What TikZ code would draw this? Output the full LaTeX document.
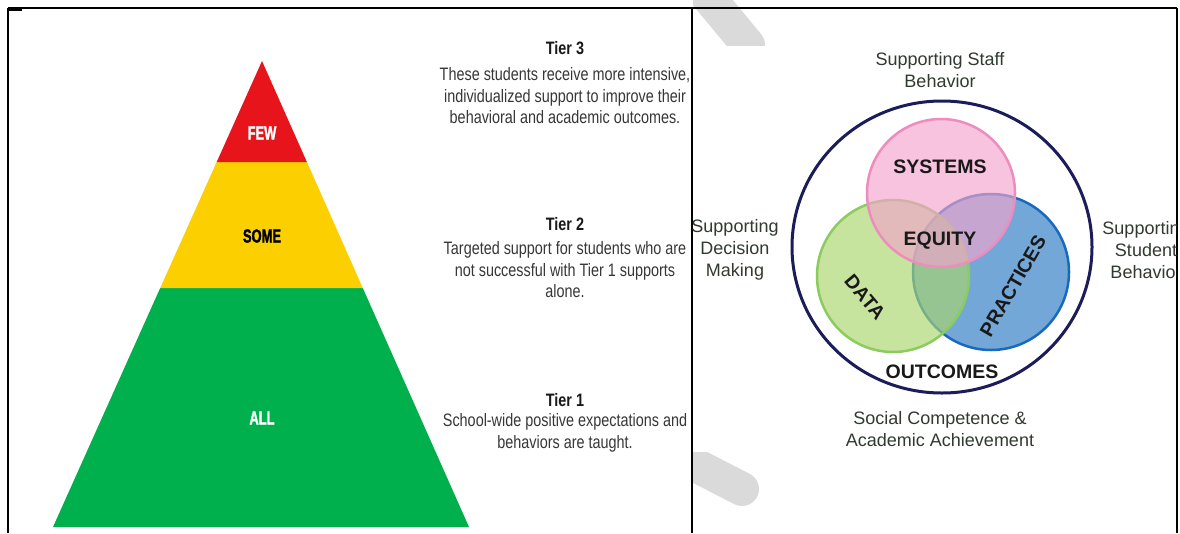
\documentclass[tikz,border=0pt]{standalone}
\usepackage{fontspec}
\setmainfont{Liberation Sans}
\newfontfamily\narrowfont[FakeStretch=0.8]{Liberation Sans}
\newfontfamily\condfont[FakeStretch=0.68,FakeBold=1.5]{Liberation Sans}
\definecolor{fewred}{RGB}{232,20,27}
\definecolor{someyellow}{RGB}{252,208,0}
\definecolor{allgreen}{RGB}{0,176,76}
\definecolor{tiergrey}{RGB}{55,55,55}
\definecolor{labelgrey}{RGB}{48,58,48}
\definecolor{ringblue}{RGB}{28,28,90}
\definecolor{syspink}{RGB}{243,164,205}
\definecolor{sysline}{RGB}{238,140,190}
\definecolor{datagreen}{RGB}{170,214,109}
\definecolor{dataline}{RGB}{140,203,94}
\definecolor{pracblue}{RGB}{40,120,196}
\definecolor{pracline}{RGB}{25,105,190}
\definecolor{watermark}{RGB}{218,218,218}
\tikzset{
  tierlabel/.style={font=\condfont\bfseries\fontsize{19}{20}\selectfont, inner sep=0pt},
  tiertitle/.style={font=\narrowfont\bfseries\fontsize{18}{21.5}\selectfont, text=black!90, inner sep=0pt},
  tiertext/.style={font=\narrowfont\fontsize{18}{21.5}\selectfont, text=tiergrey, align=center, inner sep=0pt},
  sidetext/.style={font=\fontsize{18}{22}\selectfont, text=labelgrey, align=center, inner sep=0pt},
  venntext/.style={font=\bfseries\fontsize{19.5}{22}\selectfont, text=black!90, inner sep=0pt},
  venn/.style={line width=2.5pt, fill opacity=0.65},
  frameline/.style={line width=1.6pt},
}
\begin{document}
\begin{tikzpicture}[x=1pt,y=-1pt]
  \useasboundingbox[fill=white] (0,0) rectangle (1180,533);
  % watermark stripes
  \begin{scope}
    \clip (693,0) rectangle (1177,45);
    \draw[watermark, line width=34pt, line cap=round] (690,-25) -- (748,45);
  \end{scope}
  \begin{scope}
    \clip (693,452) rectangle (1177,533);
    \draw[watermark, line width=34pt, line cap=round] (670,452) -- (742,489);
  \end{scope}
  % frame
  \draw[frameline] (8,8) -- (692,8);
  \draw[frameline, line width=2.2pt] (692,8) -- (1177,8);
  \draw[frameline] (8,8) -- (8,533);
  \draw[frameline, line width=2.2pt] (8,9.5) -- (22,9.5);
  \draw[frameline] (692,8) -- (692,533);
  \draw[frameline] (1177,8) -- (1177,533);
  % pyramid
  \fill[allgreen] (160.2,288) -- (362.8,288) -- (469,527) -- (53,527) -- cycle;
  \fill[someyellow] (216.7,162) -- (306.9,162) -- (362.8,288) -- (160.2,288) -- cycle;
  \fill[fewred] (262,61) -- (306.9,162) -- (216.7,162) -- cycle;
  \node[tierlabel, text=white] (few) at (262,133) {FEW};
  \node[tierlabel, text=black] (some) at (262,236) {SOME};
  \node[tierlabel, text=white] (all) at (262,418) {ALL};
  % tier descriptions
  \node[tiertitle] (tier3) at (565,48) {Tier 3};
  \node[tiertext] (tier3text) at (565,96) {These students receive more intensive,\\individualized support to improve their\\behavioral and academic outcomes.};
  \node[tiertitle] (tier2) at (565,224) {Tier 2};
  \node[tiertext] (tier2text) at (565,270) {Targeted support for students who are\\not successful with Tier 1 supports\\alone.};
  \node[tiertitle] (tier1) at (565,400) {Tier 1};
  \node[tiertext] (tier1text) at (565,433) {School-wide positive expectations and\\behaviors are taught.};
  % venn diagram
  \draw[ringblue, line width=3pt] (942,247) ellipse [x radius=150, y radius=146];
  \draw[venn, draw=pracline, fill=pracblue] (991,272) circle (78);
  \draw[venn, draw=dataline, fill=datagreen] (893,276) circle (76);
  \draw[venn, draw=sysline, fill=syspink] (941,193) circle (74);
  \node[venntext] (systems) at (940,167) {SYSTEMS};
  \node[venntext] (equity) at (940,241) {EQUITY};
  \node[venntext, rotate=-50] (data) at (865,297) {DATA};
  \node[venntext, rotate=60] (practices) at (1013,286) {PRACTICES};
  \node[venntext] (outcomes) at (942,372) {OUTCOMES};
  % outer labels
  \node[sidetext] (staff) at (940,70) {Supporting Staff\\Behavior};
  \node[sidetext] (decision) at (735,250) {Supporting\\Decision\\Making};
  \begin{scope}
    \clip (693,0) rectangle (1176,533);
    \node[sidetext] (student) at (1146,250) {Supporting\\Student\\Behavior};
  \end{scope}
  \node[sidetext] (social) at (940,429) {Social Competence \&\\Academic Achievement};
\end{tikzpicture}
\end{document}
